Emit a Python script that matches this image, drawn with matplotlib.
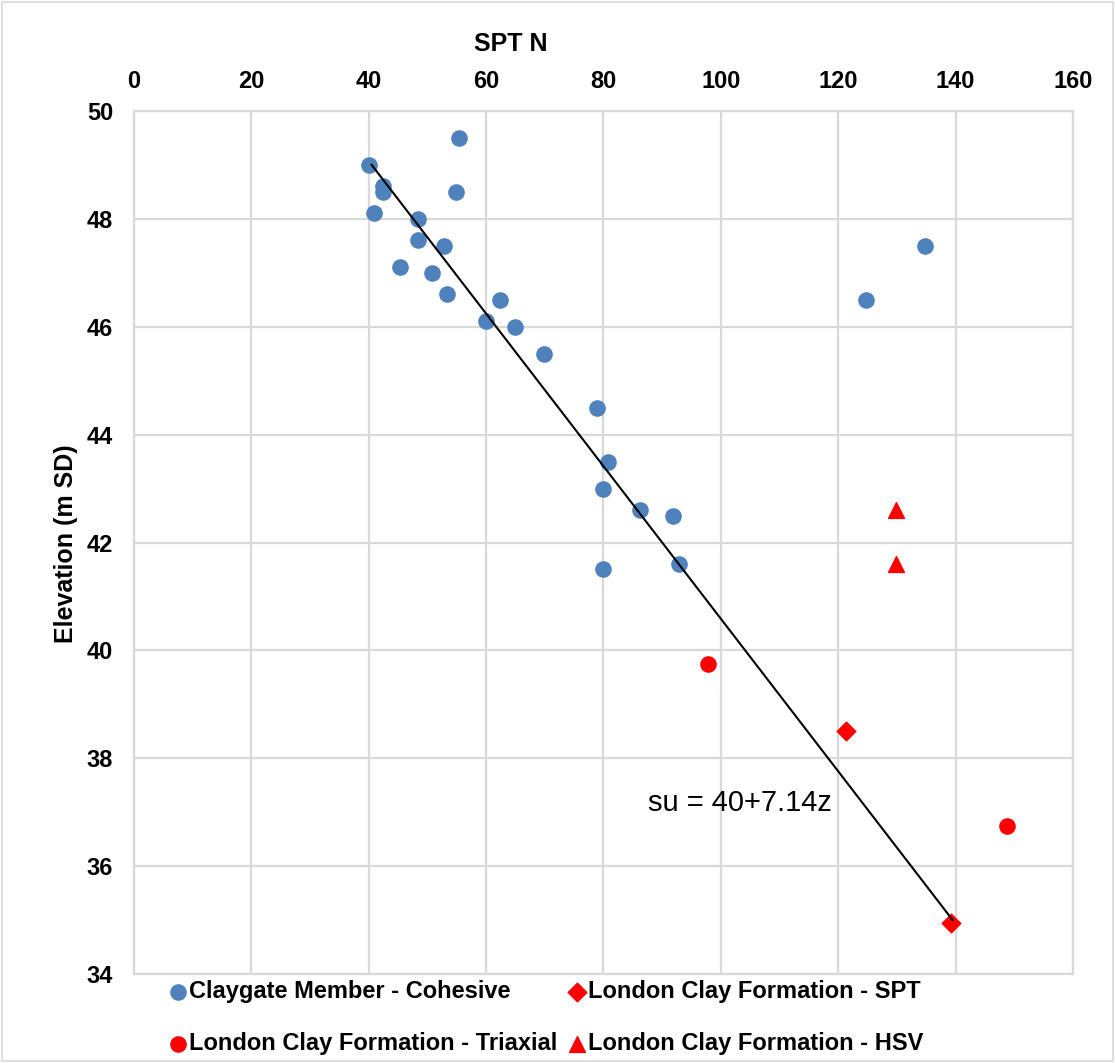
import numpy as np
import matplotlib.pyplot as plt
from matplotlib.patches import Rectangle

plt.rcParams['font.family'] = ['Liberation Sans', 'DejaVu Sans']

# Claygate Member - Cohesive
clay_n = [40, 55.4, 42.4, 42.4, 54.9, 40.9, 48.4, 48.4, 52.8, 45.3, 50.8, 53.3,
          62.4, 60.0, 64.9, 69.8, 78.9, 80.7, 79.9, 86.2, 91.8, 79.9, 92.8, 124.7, 134.8]
clay_z = [49.0, 49.5, 48.6, 48.5, 48.5, 48.1, 48.0, 47.6, 47.5, 47.1, 47.0, 46.6,
          46.5, 46.1, 46.0, 45.5, 44.5, 43.5, 43.0, 42.6, 42.5, 41.5, 41.6, 46.5, 47.5]

# London Clay Formation
spt_n = [121.3, 139.2]
spt_z = [38.5, 34.95]
tri_n = [97.8, 148.7]
tri_z = [39.75, 36.75]
hsv_n = [129.8, 129.8]
hsv_z = [42.6, 41.6]

# trend line
trend_n = [40.5, 139.5]
trend_z = [49.0, 35.0]

blue = '#4F81BD'
red = '#FF0000'
grid_c = '#D9D9D9'

fig = plt.figure(figsize=(11.15, 10.63), dpi=100)
ax = fig.add_axes([0.1202, 0.0837, 0.8421, 0.8119])

ax.scatter(clay_n, clay_z, s=120, color=blue, marker='o', zorder=3, label='Claygate Member - Cohesive')
ax.scatter(tri_n, tri_z, s=120, color=red, marker='o', zorder=3, label='London Clay Formation - Triaxial')
ax.scatter(spt_n, spt_z, s=90, color=red, marker='D', zorder=3, label='London Clay Formation - SPT')
ax.scatter(hsv_n, hsv_z, s=130, color=red, marker='^', zorder=3, label='London Clay Formation - HSV')
ax.plot(trend_n, trend_z, color='black', linewidth=1.5, zorder=4)

ax.text(87.6, 37.17, 'su = 40+7.14z', fontsize=21, ha='left', va='center', zorder=5)

ax.set_xlim(0, 160)
ax.set_ylim(34, 50)
ax.set_xticks(np.arange(0, 161, 20))
ax.set_yticks(np.arange(34, 51, 2))
ax.xaxis.tick_top()
ax.tick_params(axis='x', length=0, labelsize=17, pad=13)
ax.tick_params(axis='y', length=0, labelsize=17, pad=15)
for lab in ax.get_xticklabels() + ax.get_yticklabels():
    lab.set_fontweight('bold')
ax.grid(True, color=grid_c, linewidth=1.6)
ax.set_axisbelow(True)
for s in ax.spines.values():
    s.set_color(grid_c)
    s.set_linewidth(1.6)

fig.text(0.0592, 0.489, 'Elevation (m SD)', fontsize=18, fontweight='bold',
         rotation=90, ha='center', va='center')
fig.text(0.458, 0.9586, 'SPT N', fontsize=18, fontweight='bold', ha='center', va='center')

leg = fig.legend(loc='lower left', bbox_to_anchor=(0.135, -0.0106), ncol=2, frameon=False,
                 prop={'weight': 'bold', 'size': 17}, handlelength=0.7, handletextpad=0.15,
                 columnspacing=0.45, labelspacing=1.25, borderpad=0.3, markerscale=1.0)

fig.patches.append(Rectangle((0.002, 0.002), 0.996, 0.996, transform=fig.transFigure,
                             fill=False, edgecolor=grid_c, linewidth=1.2))

fig.savefig('out.png', dpi=100)
